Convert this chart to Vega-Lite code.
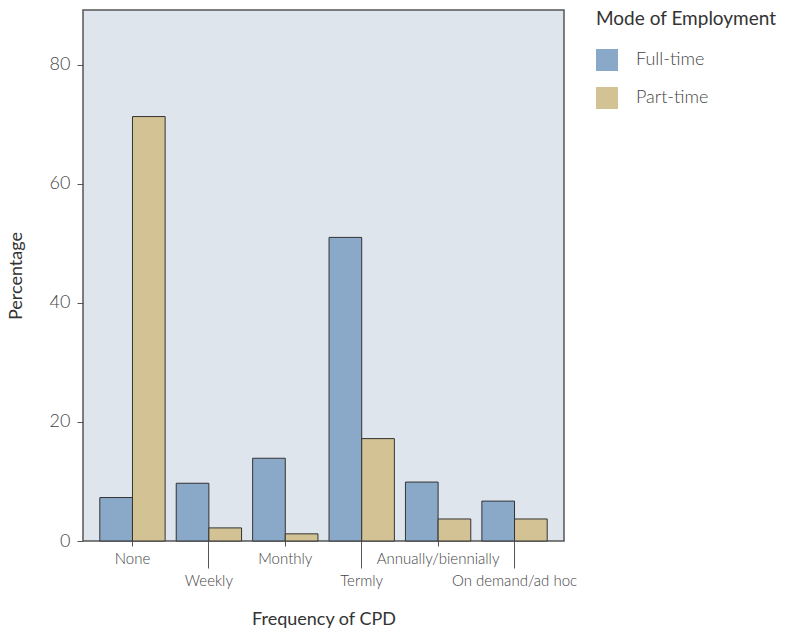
{
  "$schema": "https://vega.github.io/schema/vega-lite/v6.json",
  "width": 481,
  "height": 531,
  "padding": {"left": 7, "top": 10, "right": 5, "bottom": 5},
  "background": "white",
  "config": {
    "view": {"fill": "#dfe5ed", "stroke": "#555555", "strokeWidth": 1.5},
    "font": "Lato",
    "axis": {"labelFont": "Lato", "titleFont": "Lato"},
    "legend": {"labelFont": "Lato", "titleFont": "Lato"}
  },
  "data": {
    "values": [
      {"freq": "None", "mode": "Full-time", "pct": 7.3},
      {"freq": "None", "mode": "Part-time", "pct": 71.3},
      {"freq": "Weekly", "mode": "Full-time", "pct": 9.7},
      {"freq": "Weekly", "mode": "Part-time", "pct": 2.2},
      {"freq": "Monthly", "mode": "Full-time", "pct": 13.9},
      {"freq": "Monthly", "mode": "Part-time", "pct": 1.2},
      {"freq": "Termly", "mode": "Full-time", "pct": 51.0},
      {"freq": "Termly", "mode": "Part-time", "pct": 17.2},
      {"freq": "Annually/biennially", "mode": "Full-time", "pct": 9.9},
      {"freq": "Annually/biennially", "mode": "Part-time", "pct": 3.7},
      {"freq": "On demand/ad hoc", "mode": "Full-time", "pct": 6.7},
      {"freq": "On demand/ad hoc", "mode": "Part-time", "pct": 3.7}
    ]
  },
  "mark": {"type": "bar", "stroke": "#333333", "strokeWidth": 1},
  "encoding": {
    "x": {
      "field": "freq",
      "type": "nominal",
      "sort": ["None", "Weekly", "Monthly", "Termly", "Annually/biennially", "On demand/ad hoc"],
      "scale": {"paddingInner": 0.145, "paddingOuter": 0.22},
      "axis": {
        "title": "Frequency of CPD",
        "titleFontSize": 18,
        "titleFontWeight": "normal",
        "titleColor": "#333333",
        "titlePadding": 22,
        "labelAngle": 0,
        "labelFontSize": 15,
        "labelFontWeight": 300,
        "labelColor": "#444444",
        "domain": false,
        "tickColor": "#555555",
        "tickWidth": 1,
        "tickSize": {"condition": {"test": "indexof(['Weekly','Termly','On demand/ad hoc'], datum.value) >= 0", "value": 27}, "value": 5},
        "labelPadding": 5
      }
    },
    "xOffset": {
      "field": "mode",
      "type": "nominal",
      "scale": {"paddingInner": 0, "paddingOuter": 0}
    },
    "y": {
      "field": "pct",
      "type": "quantitative",
      "scale": {"domain": [0, 89.2], "nice": false},
      "axis": {
        "title": "Percentage",
        "titleFontSize": 18,
        "titleFontWeight": "normal",
        "titleColor": "#333333",
        "titlePadding": 24,
        "values": [0, 20, 40, 60, 80],
        "grid": false,
        "domain": false,
        "labelFontSize": 18,
        "labelFontWeight": 300,
        "labelColor": "#444444",
        "tickColor": "#555555",
        "tickSize": 6,
        "labelPadding": 7
      }
    },
    "color": {
      "field": "mode",
      "type": "nominal",
      "scale": {"domain": ["Full-time", "Part-time"], "range": ["#8aa8c8", "#d3c294"]},
      "legend": {
        "title": "Mode of Employment",
        "titleLimit": 400,
        "titleFontSize": 19,
        "titleFontWeight": "normal",
        "titleColor": "#333333",
        "titlePadding": 20,
        "labelFontSize": 18,
        "labelFontWeight": 300,
        "labelColor": "#444444",
        "labelOffset": 18,
        "symbolType": "square",
        "symbolSize": 484,
        "symbolStrokeWidth": 0,
        "symbolOpacity": 1,
        "rowPadding": 16,
        "offset": 32
      }
    }
  }
}
